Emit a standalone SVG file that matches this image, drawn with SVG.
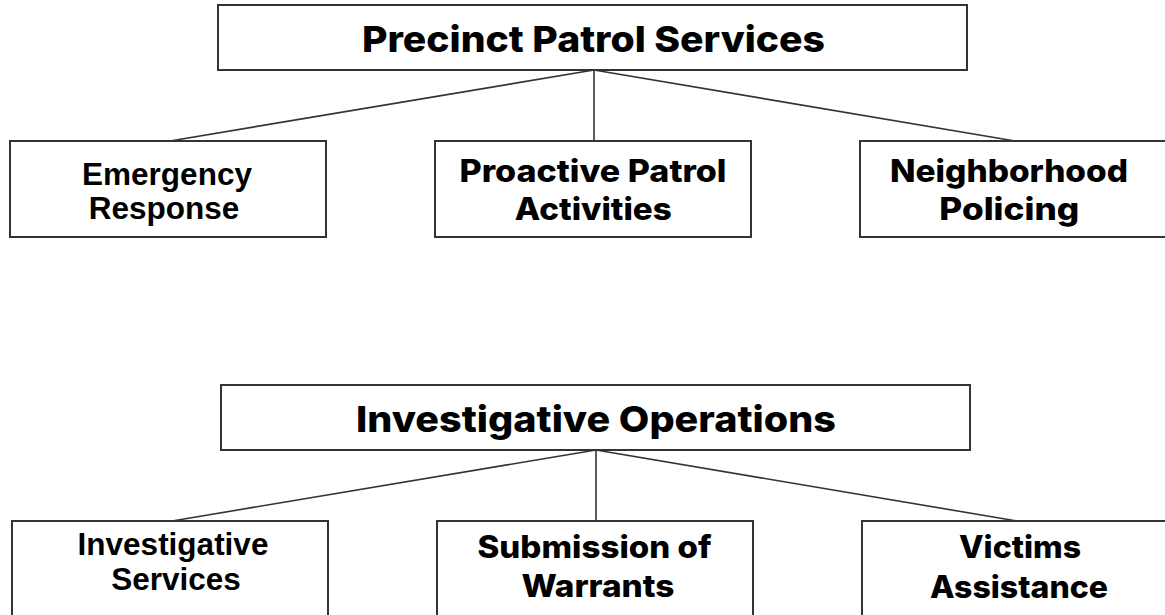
<svg xmlns="http://www.w3.org/2000/svg" width="1165" height="615" viewBox="0 0 1165 615">
<style>
.box{fill:#fff;stroke:#333;stroke-width:2}
.con{stroke:#333;stroke-width:1.6;fill:none}
.m{font-family:Inter,"Open Sans","DejaVu Sans",sans-serif;font-weight:800;fill:#000;text-anchor:middle}
.a{font-family:"Liberation Sans",Arial,sans-serif;font-weight:700;fill:#000;text-anchor:middle}
.t{font-size:36px}
.c{font-size:31px}
.ca{font-size:31.5px}
</style>
<rect width="1165" height="615" fill="#fff"/>
<g id="connectors">
<line class="con" x1="594" y1="70" x2="170" y2="141"/>
<line class="con" x1="594" y1="70" x2="594" y2="141"/>
<line class="con" x1="594" y1="70" x2="1015" y2="141"/>
<line class="con" x1="596" y1="450" x2="172" y2="521"/>
<line class="con" x1="596" y1="450" x2="596" y2="521"/>
<line class="con" x1="596" y1="450" x2="1017" y2="521"/>
</g>
<g id="precinct">
<rect class="box" x="218" y="5" width="749" height="65"/>
<text class="m t" x="593.5" y="52" textLength="463" lengthAdjust="spacingAndGlyphs">Precinct Patrol Services</text>
</g>
<g id="emergency">
<rect class="box" x="10" y="141" width="316" height="96"/>
<text class="a ca" x="167" y="185">Emergency</text>
<text class="a ca" x="164" y="219">Response</text>
</g>
<g id="proactive">
<rect class="box" x="435" y="141" width="316" height="96"/>
<text class="m c" x="593" y="182" textLength="267" lengthAdjust="spacingAndGlyphs">Proactive Patrol</text>
<text class="m c" x="593.3" y="220" textLength="157" lengthAdjust="spacingAndGlyphs">Activities</text>
</g>
<g id="neighborhood">
<rect class="box" x="860" y="141" width="316" height="96"/>
<text class="m c" x="1009" y="182" textLength="238" lengthAdjust="spacingAndGlyphs">Neighborhood</text>
<text class="m c" x="1009.3" y="220" textLength="140" lengthAdjust="spacingAndGlyphs">Policing</text>
</g>
<g id="investigative-ops">
<rect class="box" x="221" y="385" width="749" height="65"/>
<text class="m t" x="596" y="432" textLength="480" lengthAdjust="spacingAndGlyphs">Investigative Operations</text>
</g>
<g id="investigative-services">
<rect class="box" x="12" y="521" width="316" height="96"/>
<text class="a ca" x="173" y="555">Investigative</text>
<text class="a ca" x="176" y="590">Services</text>
</g>
<g id="warrants">
<rect class="box" x="437" y="521" width="316" height="96"/>
<text class="m c" x="594.5" y="558" textLength="234" lengthAdjust="spacingAndGlyphs">Submission of</text>
<text class="m c" x="598" y="597" textLength="153" lengthAdjust="spacingAndGlyphs">Warrants</text>
</g>
<g id="victims">
<rect class="box" x="862" y="521" width="316" height="96"/>
<text class="m c" x="1020" y="558" textLength="122" lengthAdjust="spacingAndGlyphs">Victims</text>
<text class="m c" x="1019" y="598" textLength="178" lengthAdjust="spacingAndGlyphs">Assistance</text>
</g>
</svg>
